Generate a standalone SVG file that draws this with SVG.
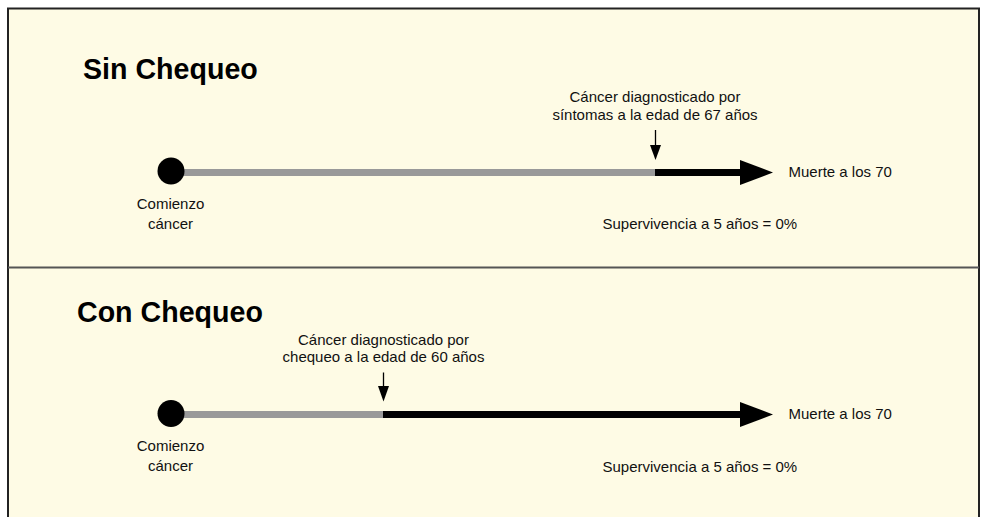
<svg xmlns="http://www.w3.org/2000/svg" width="981" height="517" viewBox="0 0 981 517">
<defs>
<style>
.t{font-family:"Liberation Sans",Arial,Helvetica,sans-serif;font-size:15px;fill:#111;}
.c{text-anchor:middle;}
.h{font-family:"Liberation Sans",Arial,Helvetica,sans-serif;font-size:28.6px;font-weight:bold;fill:#000;}
.gray{stroke:#999999;stroke-width:7;fill:none;}
.blk{stroke:#000;stroke-width:7;fill:none;}
.thin{stroke:#000;stroke-width:1.3;fill:none;}
</style>
</defs>
<rect x="0" y="0" width="981" height="517" fill="#ffffff"/>
<rect x="8" y="8.5" width="971" height="520" fill="#fefbe5" stroke="#222" stroke-width="2"/>
<line x1="8" y1="267.5" x2="979" y2="267.5" stroke="#555" stroke-width="1.8"/>
<g id="connectors">
<line class="gray" x1="171" y1="172.5" x2="656" y2="172.5"/>
<line class="blk" x1="655" y1="172.5" x2="742" y2="172.5"/>
<polygon points="740,160 773,172.5 740,185" fill="#000"/>
<line class="thin" x1="655.5" y1="130" x2="655.5" y2="147"/>
<polygon points="650,145 661,145 655.5,160" fill="#000"/>
<line class="gray" x1="171" y1="414.5" x2="384" y2="414.5"/>
<line class="blk" x1="383" y1="414.5" x2="742" y2="414.5"/>
<polygon points="740,402 773,414.5 740,427" fill="#000"/>
<line class="thin" x1="383.5" y1="372.5" x2="383.5" y2="388"/>
<polygon points="378,386 389,386 383.5,401.5" fill="#000"/>
</g>
<g id="section-sin">
<text class="h" x="83" y="78.5">Sin Chequeo</text>
</g>
<g id="start-sin">
<circle cx="171" cy="171" r="13.5" fill="#000"/>
<text class="t c" x="170.5" y="209">Comienzo</text>
<text class="t c" x="170.5" y="229">cáncer</text>
</g>
<g id="diag-sin">
<text class="t c" x="655" y="102">Cáncer diagnosticado por</text>
<text class="t c" x="655" y="120">síntomas a la edad de 67 años</text>
</g>
<g id="end-sin">
<text class="t" x="788.5" y="176.5">Muerte a los 70</text>
</g>
<g id="surv-sin">
<text class="t" x="602.5" y="228.5">Supervivencia a 5 años = 0%</text>
</g>
<g id="section-con">
<text class="h" x="77" y="321.5">Con Chequeo</text>
</g>
<g id="start-con">
<circle cx="171" cy="413.5" r="13.5" fill="#000"/>
<text class="t c" x="170.5" y="451">Comienzo</text>
<text class="t c" x="170.5" y="470.5">cáncer</text>
</g>
<g id="diag-con">
<text class="t c" x="383.5" y="345">Cáncer diagnosticado por</text>
<text class="t c" x="383.5" y="362">chequeo a la edad de 60 años</text>
</g>
<g id="end-con">
<text class="t" x="788.5" y="418.5">Muerte a los 70</text>
</g>
<g id="surv-con">
<text class="t" x="602.5" y="471.5">Supervivencia a 5 años = 0%</text>
</g>
</svg>
